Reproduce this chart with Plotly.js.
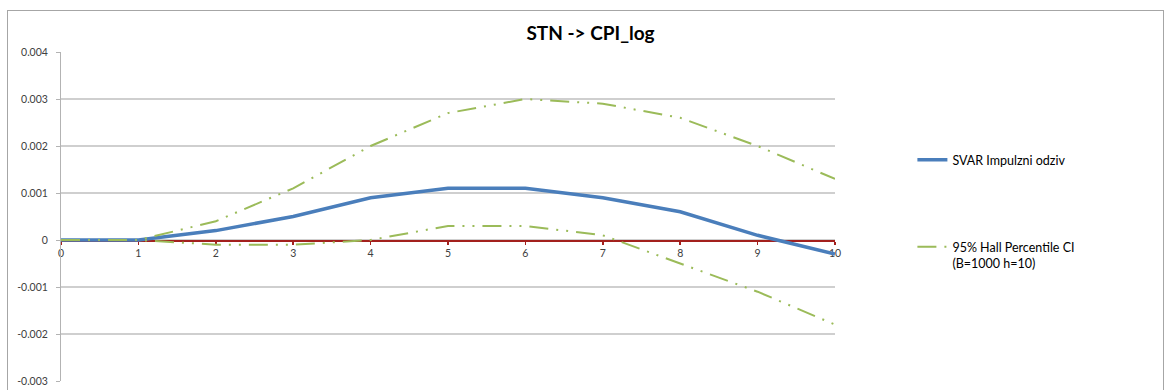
<!DOCTYPE html>
<html>
<head>
<meta charset="utf-8">
<script src="https://cdn.plot.ly/plotly-3.0.1.min.js"></script>
<style>
  html, body { margin: 0; padding: 0; background: #fff; }
  #wrap { position: relative; width: 1167px; height: 390px; overflow: hidden; }
  #chart { position: absolute; left: 0; top: 0; width: 1167px; height: 390px; }
  #frame { position: absolute; left: 7px; top: 10px; width: 1157px; height: 400px;
           border: 1px solid #a6a6a6; box-sizing: border-box; pointer-events: none; }
</style>
</head>
<body>
<div id="wrap">
  <div id="chart"></div>
  <div id="frame"></div>
</div>
<script>
const horizons = [0, 1, 2, 3, 4, 5, 6, 7, 8, 9, 10];
const svarResponse = [0, 0, 0.0002, 0.0005, 0.0009, 0.0011, 0.0011, 0.0009, 0.0006, 0.0001, -0.0003];
const ciUpper = [0, 0, 0.0004, 0.0011, 0.0020, 0.0027, 0.0030, 0.0029, 0.0026, 0.0020, 0.0013];
const ciLower = [0, 0, -0.0001, -0.0001, 0.0000, 0.0003, 0.0003, 0.0001, -0.0005, -0.0011, -0.0018];
const yTickVals = [-0.003, -0.002, -0.001, 0, 0.001, 0.002, 0.003, 0.004];
const yTickLabels = ['-0.003', '-0.002', '-0.001', '0', '0.001', '0.002', '0.003', '0.004'];
const xTickLabels = ['0', '1', '2', '3', '4', '5', '6', '7', '8', '9', '10'];
const seriesNames = ['SVAR Impulzni odziv', '95% Hall Percentile CI<br>(B=1000 h=10)'];

const FONT = 'Lato, "Open Sans", sans-serif';
const ciDash = '19px,8px,2px,8px,2px,8px';
const yMin = -0.003, yMax = 0.004;

const traces = [
  {
    x: horizons, y: svarResponse, type: 'scatter', mode: 'lines',
    name: seriesNames[0], legend: 'legend',
    line: { color: '#4A7EBB', width: 3.5 }
  },
  {
    x: horizons, y: ciUpper, type: 'scatter', mode: 'lines',
    name: seriesNames[1], legend: 'legend2',
    line: { color: '#9BBB59', width: 2, dash: ciDash }
  },
  {
    x: horizons, y: ciLower, type: 'scatter', mode: 'lines',
    name: seriesNames[1], legend: 'legend2', showlegend: false,
    line: { color: '#9BBB59', width: 2, dash: ciDash }
  }
];

const layout = {
  width: 1167, height: 390,
  margin: { l: 61, r: 332, t: 52, b: 9 },
  paper_bgcolor: '#ffffff', plot_bgcolor: '#ffffff',
  font: { family: FONT, size: 10, color: '#404040' },
  title: {
    text: '<b>STN -> CPI_log</b>',
    font: { family: FONT, size: 19, color: '#000000' },
    xref: 'container', x: 0.506, xanchor: 'center',
    yref: 'container', y: 1 - 33 / 390, yanchor: 'middle'
  },
  xaxis: {
    range: [0, 10], tickvals: horizons, ticktext: xTickLabels,
    anchor: 'free', position: (0 - yMin) / (yMax - yMin),
    showline: true, linecolor: '#A3201D', linewidth: 1.5,
    ticks: 'outside', ticklen: 3, tickcolor: '#A3201D', tickwidth: 1.5,
    showgrid: false, zeroline: false, layer: 'below traces',
    tickfont: { family: FONT, size: 10.5, color: '#404040' }
  },
  yaxis: {
    range: [yMin, yMax], tickvals: yTickVals, ticktext: yTickLabels,
    showline: true, linecolor: '#b3b3b3', linewidth: 1,
    ticks: 'outside', ticklen: 4, tickcolor: '#b3b3b3',
    showgrid: true, gridcolor: '#cfcfcf', gridwidth: 1.2,
    zeroline: false, ticklabelstandoff: 6,
    tickfont: { family: FONT, size: 10.5, color: '#404040' }
  },
  legend: {
    x: 1.1, xanchor: 'left', y: (381 - 160) / 329, yanchor: 'middle',
    valign: 'top',
    bgcolor: 'rgba(0,0,0,0)', font: { family: FONT, size: 12.5, color: '#000' }
  },
  legend2: {
    x: 1.1, xanchor: 'left', y: (381 - 255) / 329, yanchor: 'middle',
    valign: 'top',
    bgcolor: 'rgba(0,0,0,0)', font: { family: FONT, size: 12.5, color: '#000' }
  },
  showlegend: true
};

Plotly.newPlot('chart', traces, layout, { displayModeBar: false, staticPlot: true });
</script>
</body>
</html>
